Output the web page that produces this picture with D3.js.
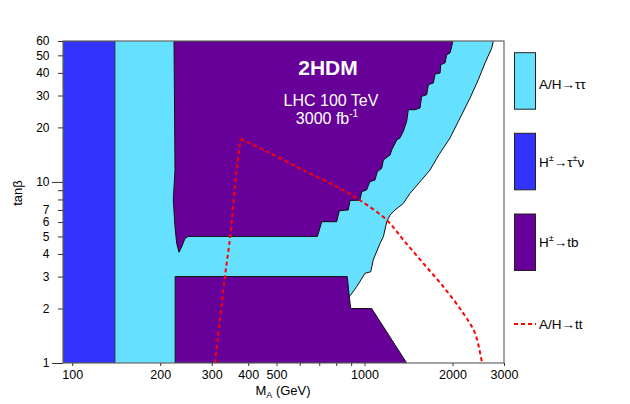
<!DOCTYPE html>
<html><head><meta charset="utf-8">
<script src="https://cdn.jsdelivr.net/npm/d3@7"></script>
<style>body{margin:0;background:#fff}svg{display:block;font-family:"Liberation Sans",Arial,sans-serif}</style>
</head><body>
<svg id="c" width="630" height="404"></svg>
<script>
// ---- data (M_A in GeV, tan beta) ----
const xTickValues = [100,200,300,400,500,600,700,800,900,1000,2000,3000];
const xTickLabels = [100,200,300,400,500,1000,2000,3000];
const yTickValues = [1,2,3,4,5,6,7,8,9,10,20,30,40,50,60];
const yTickLabels = [1,2,3,4,5,6,7,10,20,30,40,50,60];

// H+ -> tau nu excluded below this mass (all tan beta)
const tauNuMassEdge = [140];
// A/H -> tau tau right boundary (top to bottom)
const tautauBoundary = [[2759,60],[2724,54.9],[2584,45.4],[2451,36.7],[2296,29.07],[2122,22.54],[1961,17.48],
  [1800,14.2],[1675,11.63],[1431,8.65],[1358,7.62],[1272,7.0],[1223,6.57],[1191,6.03],[1160,4.98],[1130,4.58],
  [1071,3.71],[1050,3.19],[1004,3.13],[940,2.64],[894,2.36],[887,2.32]];
// H+ -> tb, upper region outline
const tbUpper = [[223,60],[224.7,11.63],[221.7,7.95],[224.7,5.66],[227.7,4.58],[231.9,4.09],[237,4.39],[243.2,4.88],[249.6,5.0],
  [690,5.0],[714,6.03],[803,6.03],[820,6.93],[880,7.0],[892,7.9],[964,7.92],[978,8.83],[1017,9.03],[1043,10.03],[1086,10.25],
  [1106,11.39],[1145,11.89],[1160,13.21],[1223,14.08],[1239,15.01],[1289,17.04],[1322,17.48],[1358,19.04],[1394,21.62],
  [1412,25.05],[1488,25.05],[1548,25.6],[1569,29.7],[1632,30.3],[1653,34.4],[1720,35.2],[1743,39.4],[1813,39.9],[1823,44.4],
  [1885,45.4],[1911,50.4],[1961,51.5],[1988,56.1],[2003,60]];
// H+ -> tb, lower region outline
const tbLower = [[225,3.0],[873,3.0],[887,2.32],[897,2.0],[1058,2.0],[1394,1.0],[225,1.0]];
// A/H -> tt expected reach (dashed): left leg and arc
const ttLeg = [[308,1],[333,3.0],[347,4.98],[365,11.63],[377,17.26]];
const ttArc = [[377,17.26],[475,14.44],[616,11.63],[803,9.41],[964,7.92],[1191,6.16],[1358,4.78],[1589,3.55],[1860,2.64],[2178,1.88],[2388,1.46],[2523,1]];

// ---- drawing ----
const colTauTau = "#66e0ff", colTauNu = "#3333ff", colTb = "#660099", colTt = "#ff0000";
const L = 63, R = 504, T = 41, B = 363;
const svg = d3.select("#c");
const x = d3.scaleLog().domain([93,3000]).range([L,R]);
const y = d3.scaleLog().domain([1,60]).range([B,T]);
const line = d3.line().x(d=>x(d[0])).y(d=>y(d[1]));
const xMin = x.domain()[0], yMin = y.domain()[0], yMax = y.domain()[1];

svg.append("defs").append("clipPath").attr("id","clip").append("rect").attr("x",L).attr("y",T).attr("width",R-L).attr("height",B-T);
const g = svg.append("g").attr("clip-path","url(#clip)");

// tau tau (cyan) region
const tautauPoly = [[tauNuMassEdge[0],yMin],[tauNuMassEdge[0],yMax]].concat(tautauBoundary).concat([[tautauBoundary[tautauBoundary.length-1][0],yMin]]);
g.append("path").attr("d",line(tautauPoly)+"Z").attr("fill",colTauTau);
g.append("path").attr("d",line(tautauBoundary)).attr("fill","none").attr("stroke","#111").attr("stroke-width",1);
// tau nu (blue)
g.append("path").attr("d",line([[xMin,yMin],[tauNuMassEdge[0],yMin],[tauNuMassEdge[0],yMax],[xMin,yMax]])+"Z")
  .attr("fill",colTauNu).attr("stroke","#222").attr("stroke-width",0.8);
// tb (purple)
g.append("path").attr("d",line(tbUpper)+"Z").attr("fill",colTb).attr("stroke","#111").attr("stroke-width",1);
g.append("path").attr("d",line(tbLower)+"Z").attr("fill",colTb).attr("stroke","#111").attr("stroke-width",1);
// tt dashed
const smooth = d3.line().x(d=>x(d[0])).y(d=>y(d[1])).curve(d3.curveCatmullRom.alpha(0.5));
[ttLeg, ttArc].forEach(a=>g.append("path").attr("d",smooth(a)).attr("fill","none").attr("stroke",colTt).attr("stroke-width",2).attr("stroke-dasharray","4,3"));

// frame
svg.append("rect").attr("x",L).attr("y",T).attr("width",R-L).attr("height",B-T).attr("fill","none").attr("stroke","#666").attr("stroke-width",1.2);

// axes
const xAxis = svg.append("g").attr("transform",`translate(0,${B})`)
  .call(d3.axisBottom(x).tickValues(xTickValues).tickSize(3).tickFormat(d=>xTickLabels.includes(d)?d:""));
xAxis.select(".domain").remove();
xAxis.selectAll("line").attr("stroke","#333");
xAxis.selectAll("text").attr("font-size",12.5).attr("fill","#000").attr("dy","0.75em").attr("y",7);
const yAxis = svg.append("g").attr("transform",`translate(${L},0)`)
  .call(d3.axisLeft(y).tickValues(yTickValues).tickSize(5).tickFormat(d=>yTickLabels.includes(d)?d:""));
yAxis.select(".domain").remove();
yAxis.selectAll("line").attr("stroke","#333");
yAxis.selectAll(".tick").filter(d=>d===1||d===10).select("line").attr("x2",-11);
yAxis.selectAll("text").attr("font-size",12).attr("fill","#000").attr("x",-13.5);

// axis titles
const xt = svg.append("text").attr("x",283).attr("y",395).attr("text-anchor","middle").attr("font-size",13);
xt.append("tspan").text("M");
xt.append("tspan").attr("font-size",9).attr("dy",3).text("A");
xt.append("tspan").attr("dy",-3).text(" (GeV)");
svg.append("text").attr("transform","translate(22,193) rotate(-90)").attr("text-anchor","middle").attr("font-size",13).text("tanβ");

// in-plot labels
svg.append("text").attr("x",328).attr("y",75).attr("text-anchor","middle").attr("font-size",21).attr("font-weight","bold").attr("fill","#fff").text("2HDM");
svg.append("text").attr("x",331).attr("y",106).attr("text-anchor","middle").attr("font-size",16).attr("fill","#fff").text("LHC 100 TeV");
const lum = svg.append("text").attr("x",327).attr("y",124).attr("text-anchor","middle").attr("font-size",16).attr("fill","#fff");
lum.append("tspan").text("3000 fb");
lum.append("tspan").attr("font-size",10).attr("dy",-7).text("-1");

// legend
const legendColors = [colTauTau,colTauNu,colTb];
const boxTops = [52.7,133.3,214];
boxTops.forEach((t,i)=>svg.append("rect").attr("x",514.5).attr("y",t).attr("width",21).attr("height",56.5)
  .attr("fill",legendColors[i]).attr("stroke","#222").attr("stroke-width",1));
svg.append("line").attr("x1",514).attr("x2",536).attr("y1",324).attr("y2",324).attr("stroke",colTt).attr("stroke-width",2).attr("stroke-dasharray","4,3");
const ly = [89,166.5,247,329];
function arrowLabel(yy, parts){
  const t = svg.append("text").attr("x",539).attr("y",yy).attr("font-size",13.5);
  parts.forEach(p=>{
    const s = t.append("tspan").text(p.t);
    if(p.sup){s.attr("font-size",9).attr("dy",-6);} 
    if(p.down){s.attr("dy",6);}
  });
}
arrowLabel(ly[0],[{t:"A/H"},{t:"→"},{t:"ττ"}]);
arrowLabel(ly[1],[{t:"H"},{t:"±",sup:1},{t:"→",down:1},{t:"τ"},{t:"±",sup:1},{t:"ν",down:1}]);
arrowLabel(ly[2],[{t:"H"},{t:"±",sup:1},{t:"→tb",down:1}]);
arrowLabel(ly[3],[{t:"A/H"},{t:"→"},{t:"tt"}]);
</script>
</body></html>
